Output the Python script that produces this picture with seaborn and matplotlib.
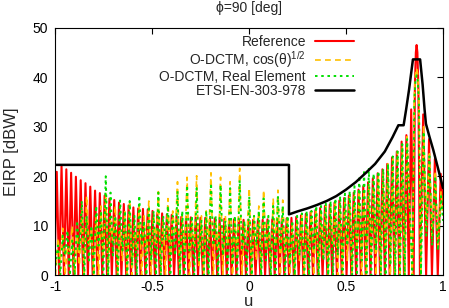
import numpy as np
import pandas as pd
import seaborn as sns
import matplotlib.pyplot as plt

# EIRP [dBW] of each lobe maximum, left of the main beam
ref_side_u = np.linspace(-0.991, 0.836, 75)
ref_side_db = [20.9, 22.1, 21.4, 20.7, 19.9, 19.2, 18.6, 17.9, 17.1, 16.6,
               16.1, 15.5, 15.2, 14.7, 14.4, 14.1, 13.7, 13.5, 13.4, 13.3,
               13.0, 12.6, 12.5, 12.3, 12.2, 12.0, 11.8, 11.8,
               11.7, 11.7, 11.6, 11.6, 11.5, 11.5, 11.4, 11.4, 11.3, 11.3,
               11.3, 11.2, 11.2, 11.2, 11.2, 11.2, 11.3, 11.3, 11.3, 11.4,
               11.5, 11.6, 11.8, 12.1, 12.4, 12.8, 13.2,
               13.6, 14.0, 14.3, 14.7, 15.1, 15.6, 16.1, 16.7, 17.3, 18.0,
               18.8, 19.6, 20.6, 21.4, 22.5, 23.8, 25.0, 27.0, 28.3, 33.5]
ref_null_db = [0.0] * 75
# main beam and the lobes right of it (maxima and nulls)
ref_tail_u = [0.849, 0.855, 0.860, 0.864, 0.868, 0.873, 0.881, 0.898, 0.913,
              0.928, 0.943, 0.958, 0.973, 0.988, 1.0]
ref_tail_db = [0, 38, 45, 46.5, 45, 38, 0, 32.5, 0, 27.5, 0, 23.5, 0, 20.5, 14]

cos_side_u = np.linspace(-0.985, 0.815, 74)
cos_side_db = [7.5, 9.5, 6.0, 10.0, 8.0, 13.0, 16.0, 9.0, 12.0, 14.0,
               16.5, 11.0, 14.0, 9.0, 13.0, 15.0, 10.0, 14.0, 12.0, 15.0,
               12.0, 16.9, 11.0, 15.5, 13.0, 18.9, 12.0, 19.8,
               11.0, 20.1, 12.0, 13.0, 20.7, 11.0, 19.8, 12.0, 18.9, 11.0,
               21.6, 10.0, 17.6, 12.0, 14.0, 17.2, 11.0, 15.5, 17.2, 15.2, 12.0,
               10.5, 11.5, 12.0, 12.5, 13.0, 13.5, 13.0, 14.0, 14.0, 14.5,
               15.0, 15.5, 16.0, 16.0, 17.0, 17.5, 18.5, 19.0, 20.0, 21.0,
               22.5, 23.5, 25.0, 26.0, 28.0]
cos_null_db = [0, 3, 0, 5, 0, 2, 0, 6, 0, 0, 4, 0, 7, 0, 3, 0, 0, 5, 0, 4,
               0, 6, 0, 0, 3, 8, 0, 5, 0, 6, 2, 0, 7, 0, 5, 0, 6, 0, 4, 0,
               8, 0, 3, 0, 5, 0, 6, 0, 4, 0, 0, 3, 0, 5, 0, 0, 4, 0, 6, 0,
               0, 3, 0, 5, 0, 0, 4, 0, 0, 6, 0, 0, 0, 0]
cos_tail_u = [0.842, 0.852, 0.858, 0.864, 0.870, 0.876, 0.886, 0.900, 0.914,
              0.930, 0.944, 0.960, 0.974, 0.990, 1.0]
cos_tail_db = [0, 36, 40.5, 41.8, 40.5, 36, 0, 30, 10, 25, 8, 21, 6, 17, 12]

real_side_u = np.linspace(-0.985, 0.815, 74)
real_side_db = [6.0, 8.0, 9.0, 7.0, 11.0, 15.0, 12.0, 10.0, 14.0, 13.0,
                20.0, 16.7, 12.0, 15.1, 13.0, 15.0, 12.0, 16.1, 11.0, 14.0,
                13.0, 16.7, 12.0, 14.0, 12.0, 17.0, 13.0, 18.2,
                12.0, 17.6, 11.0, 13.0, 18.6, 12.0, 18.2, 11.0, 17.6, 12.0,
                19.2, 11.0, 15.9, 12.0, 13.0, 15.5, 12.0, 14.0, 16.0, 14.0, 12.0,
                11.0, 12.0, 12.5, 13.0, 13.0, 14.0, 14.0, 14.5, 15.0, 15.5,
                16.0, 16.5, 17.0, 18.0, 20.0, 21.3, 21.7, 20.5, 21.0, 21.5,
                22.5, 24.0, 25.0, 26.5, 27.5]
real_null_db = [2, 0, 4, 0, 0, 5, 0, 3, 0, 6, 0, 0, 4, 0, 5, 0, 2, 0, 6, 0,
                3, 0, 0, 7, 0, 4, 0, 0, 5, 0, 3, 0, 0, 6, 0, 4, 0, 2, 0, 5,
                0, 0, 6, 0, 3, 0, 0, 5, 0, 2, 0, 4, 0, 0, 5, 0, 3, 0, 0, 4,
                0, 6, 0, 0, 3, 0, 0, 5, 0, 0, 2, 0, 0, 0]
real_tail_u = cos_tail_u
real_tail_db = [0, 35, 39.2, 40.4, 39.2, 35, 0, 29, 8, 24, 6, 20, 5, 16, 11]

# ETSI EN 303 978 mask
etsi_u = [-1, 0.206, 0.206, 0.25, 0.3, 0.35, 0.4, 0.45, 0.5, 0.55, 0.6, 0.65,
          0.7, 0.74, 0.77, 0.797, 0.81, 0.825, 0.845, 0.882, 0.895, 0.905,
          0.912, 0.93, 0.95, 0.975, 1.0]
etsi_db = [22.3, 22.3, 12.3, 12.9, 13.5, 14.2, 15.0, 16.0, 17.3, 18.8, 20.6,
           22.5, 25.0, 27.9, 30.3, 30.3, 33.5, 37.5, 43.6, 43.6, 38.5, 33.5,
           30.6, 28.0, 25.3, 21.5, 17.6]


def lobe_frame(side_u, side_db, null_db, tail_u, tail_db):
    # a null halfway before every lobe maximum, then the main beam part
    side_u = np.asarray(side_u)
    step = side_u[1] - side_u[0]
    u = np.column_stack([side_u - step / 2, side_u]).ravel()
    db = np.column_stack([null_db, side_db]).ravel()
    return pd.DataFrame({'u': np.r_[u, tail_u], 'EIRP': np.r_[db, tail_db]})


ref = lobe_frame(ref_side_u, ref_side_db, ref_null_db, ref_tail_u, ref_tail_db)
cos = lobe_frame(cos_side_u, cos_side_db, cos_null_db, cos_tail_u, cos_tail_db)
real = lobe_frame(real_side_u, real_side_db, real_null_db, real_tail_u, real_tail_db)
etsi = pd.DataFrame({'u': etsi_u, 'EIRP': etsi_db})

sns.set_theme(style='white')
plt.rcParams['font.family'] = ['Liberation Sans', 'DejaVu Sans']
plt.rcParams['font.size'] = 10
plt.rcParams['mathtext.fontset'] = 'custom'
plt.rcParams['mathtext.rm'] = 'Liberation Sans'

fig = plt.figure(figsize=(4.49, 3.08), dpi=100)
ax = fig.add_axes([55 / 449, 1 - 275.3 / 308, 388 / 449, 247.6 / 308])

sns.lineplot(data=ref, x='u', y='EIRP', sort=False, estimator=None, ax=ax,
             color='#ff0000', lw=1.5, label='Reference')
sns.lineplot(data=cos, x='u', y='EIRP', sort=False, estimator=None, ax=ax,
             color='#ffc000', lw=1.2, linestyle=(0, (3.5, 2.5)),
             label=r'O-DCTM, cos(θ)$^{1/2}$')
sns.lineplot(data=real, x='u', y='EIRP', sort=False, estimator=None, ax=ax,
             color='#00e000', lw=1.4, linestyle=(0, (1.3, 1.9)),
             label='O-DCTM, Real Element')
sns.lineplot(data=etsi, x='u', y='EIRP', sort=False, estimator=None, ax=ax,
             color='black', lw=1.8, label='ETSI-EN-303-978')

ax.set_xlim(-1, 1)
ax.set_ylim(0, 50)
ax.set_xticks([-1, -0.5, 0, 0.5, 1])
ax.set_xticklabels(['-1', '-0.5', '0', '0.5', '1'])
ax.set_yticks([0, 10, 20, 30, 40, 50])
ax.tick_params(direction='in', top=True, right=True, length=4, width=0.8,
               pad=5, labelsize=10, colors='black')
ax.tick_params(axis='x', pad=3.5)
for s in ax.spines.values():
    s.set_color('black')
    s.set_linewidth(0.8)
ax.set_xlabel('u')
ax.set_ylabel('EIRP [dBW]')
ax.xaxis.set_label_coords(0.5, -0.077)
ax.yaxis.set_label_coords(-0.094, 0.5)

fig.text(249 / 449, 1 - 8 / 308, 'ϕ=90 [deg]', ha='center', va='center',
         fontsize=10)

ax.legend(loc='upper right', bbox_to_anchor=(354 / 449, 1 - 34.5 / 308),
          bbox_transform=fig.transFigure, frameon=False,
          markerfirst=False, borderpad=0, borderaxespad=0,
          handlelength=2.8, handletextpad=0.65, labelspacing=0.02,
          fontsize=10)

fig.savefig('out.png', dpi=100)
